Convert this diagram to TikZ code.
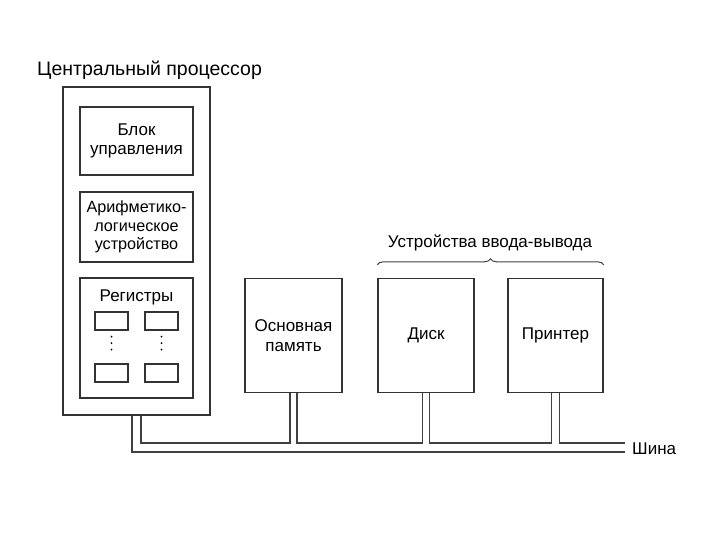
\documentclass[tikz,border=0pt]{standalone}
\usepackage{fontspec}
\setmainfont{Liberation Sans}
\usetikzlibrary{decorations.pathreplacing}
\tikzset{%
    box/.style={draw=black!80,line width=1.4pt,align=center,inner sep=0pt,
        font=\fontsize{17}{19.5}\selectfont}
}

\begin{document}
\begin{tikzpicture}[x=1pt,y=-1pt,
            bus/.style={draw=black!75,line width=1.4pt},
            lbl/.style={font=\fontsize{17}{19.5}\selectfont,inner sep=0pt},
            dots/.style={line width=2pt,line cap=round,dash pattern=on 0pt off 6.5pt,
                shorten <=6pt,shorten >=12pt}
            ]
            \useasboundingbox (0,0) rectangle (720,540);

            \node[lbl,font=\fontsize{19.5}{22}\selectfont] (cputxt) at (149.5,70) {Центральный процессор};
            \node[box,minimum width=147pt,minimum height=328pt] (cpu) at (136.5,251) {};
            \node[box,minimum width=113pt,minimum height=68pt] (cu) at (136.5,141) {Блок\\управления};
            \node[box,minimum width=113pt,minimum height=70pt,font=\fontsize{16.2}{18.5}\selectfont] (alu) at (136.5,227) {Арифметико-\\логическое\\устройство};
            \node[box,minimum width=113pt,minimum height=120pt] (regs) at (136.5,338) {};
            \node[lbl] (regtxt) at (136.5,297) {Регистры};

            \node[box,minimum width=33pt,minimum height=18pt] (r1) at (111.5,321) {};
            \node[box,minimum width=33pt,minimum height=18pt] (r2) at (161.5,321) {};
            \node[box,minimum width=33pt,minimum height=18pt] (r3) at (111.5,373) {};
            \node[box,minimum width=33pt,minimum height=18pt] (r4) at (161.5,373) {};
            \draw[dots] (r1) -- (r3);
            \draw[dots] (r2) -- (r4);

            \node[box,minimum width=97pt,minimum height=114pt] (mem) at (293.5,335.5) {Основная\\память};
            \node[box,minimum width=96pt,minimum height=114pt] (disk) at (426,335.5) {Диск};
            \node[box,minimum width=95pt,minimum height=114pt] (prn) at (555.5,335.5) {Принтер};

            \draw[draw=black!75,line width=1pt,decorate,decoration={brace,amplitude=6pt}]
                ([yshift=13pt]disk.north west) -- ([yshift=13pt]prn.north east);
            \node[lbl] (iotxt) at (490,243) {Устройства ввода-вывода};

            \coordinate (busend) at (625,443);
            \node[lbl,anchor=west] (bustxt) at (632,449) {Шина};

            \draw[bus] ([xshift=-4.5pt]cpu.south) |- (busend |- 0,452);
            \draw[bus] ([xshift=4.5pt]cpu.south) |- ([xshift=-3.5pt]mem.south |- busend) -- ([xshift=-3.5pt]mem.south);
            \draw[bus] ([xshift=3.5pt]mem.south) |- ([xshift=-3.5pt]disk.south |- busend) -- ([xshift=-3.5pt]disk.south);
            \draw[bus] ([xshift=3.5pt]disk.south) |- ([xshift=-4pt]prn.south |- busend) -- ([xshift=-4pt]prn.south);
            \draw[bus] ([xshift=4pt]prn.south) |- (busend);
        \end{tikzpicture}
\end{document}
